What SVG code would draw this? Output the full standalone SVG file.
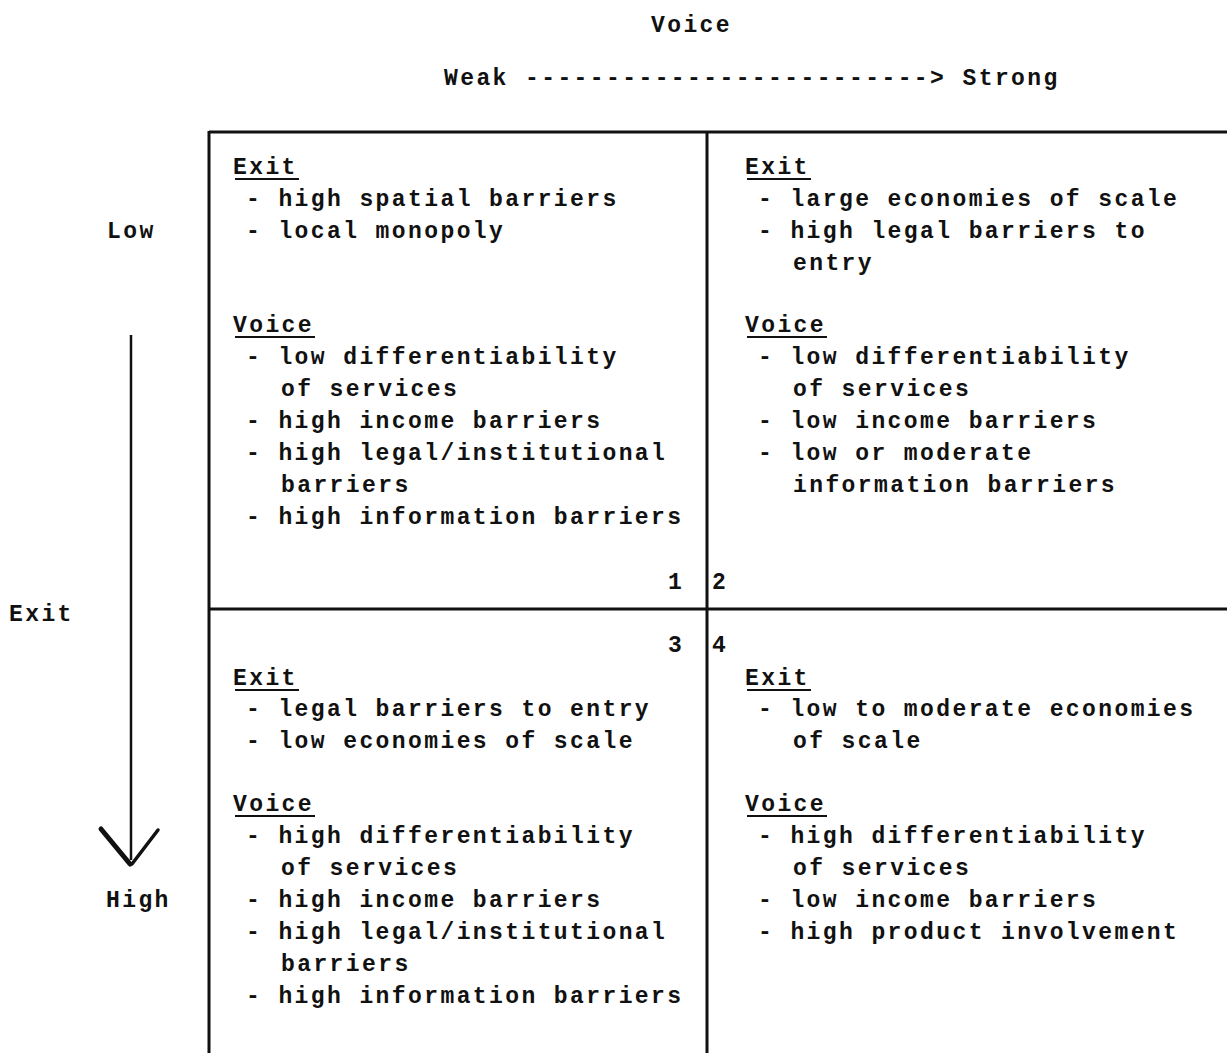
<svg xmlns="http://www.w3.org/2000/svg" width="1227" height="1053" viewBox="0 0 1227 1053">
<style>
text{font-family:"Liberation Mono","DejaVu Sans Mono",monospace;font-size:23px;font-weight:bold;letter-spacing:2.4px;fill:#111}
.g{stroke:#111;stroke-width:3;fill:none}
.u{stroke:#111;stroke-width:2}
</style>
<rect width="1227" height="1053" fill="#fff"/>
<g id="axis-voice">
<text x="651" y="32">Voice</text>
<text x="444" y="85">Weak -------------------------&gt; Strong</text>
</g>
<g id="axis-exit">
<text x="107" y="238">Low</text>
<text x="9" y="621">Exit</text>
<text x="106" y="907">High</text>
</g>
<g id="connectors">
<line x1="131" y1="335" x2="131" y2="860" stroke="#111" stroke-width="2.5"/>
<line x1="101" y1="829" x2="130" y2="864" stroke="#111" stroke-width="5" stroke-linecap="round"/>
<line x1="158" y1="830" x2="132" y2="864" stroke="#111" stroke-width="3.5" stroke-linecap="round"/>
</g>
<g id="grid">
<line class="g" x1="209" y1="132" x2="1227" y2="132"/>
<line class="g" x1="209" y1="609" x2="1227" y2="609"/>
<line class="g" x1="209" y1="131" x2="209" y2="1053"/>
<line class="g" x1="707" y1="131" x2="707" y2="1053"/>
</g>
<g id="cell1">
<text x="233" y="174">Exit</text>
<line class="u" x1="235" y1="179" x2="299" y2="179"/>
<text x="246" y="206">- high spatial barriers</text>
<text x="246" y="238">- local monopoly</text>
<text x="233" y="332">Voice</text>
<line class="u" x1="235" y1="337" x2="315" y2="337"/>
<text x="246" y="364">- low differentiability</text>
<text x="281" y="396">of services</text>
<text x="246" y="428">- high income barriers</text>
<text x="246" y="460">- high legal/institutional</text>
<text x="281" y="492">barriers</text>
<text x="246" y="524">- high information barriers</text>
<text x="668" y="589">1</text>
</g>
<g id="cell2">
<text x="745" y="174">Exit</text>
<line class="u" x1="747" y1="179" x2="811" y2="179"/>
<text x="758" y="206">- large economies of scale</text>
<text x="758" y="238">- high legal barriers to</text>
<text x="793" y="270">entry</text>
<text x="745" y="332">Voice</text>
<line class="u" x1="747" y1="337" x2="827" y2="337"/>
<text x="758" y="364">- low differentiability</text>
<text x="793" y="396">of services</text>
<text x="758" y="428">- low income barriers</text>
<text x="758" y="460">- low or moderate</text>
<text x="793" y="492">information barriers</text>
<text x="712" y="589">2</text>
</g>
<g id="cell3">
<text x="668" y="652">3</text>
<text x="233" y="685">Exit</text>
<line class="u" x1="235" y1="690" x2="299" y2="690"/>
<text x="246" y="716">- legal barriers to entry</text>
<text x="246" y="748">- low economies of scale</text>
<text x="233" y="811">Voice</text>
<line class="u" x1="235" y1="816" x2="315" y2="816"/>
<text x="246" y="843">- high differentiability</text>
<text x="281" y="875">of services</text>
<text x="246" y="907">- high income barriers</text>
<text x="246" y="939">- high legal/institutional</text>
<text x="281" y="971">barriers</text>
<text x="246" y="1003">- high information barriers</text>
</g>
<g id="cell4">
<text x="712" y="652">4</text>
<text x="745" y="685">Exit</text>
<line class="u" x1="747" y1="690" x2="811" y2="690"/>
<text x="758" y="716">- low to moderate economies</text>
<text x="793" y="748">of scale</text>
<text x="745" y="811">Voice</text>
<line class="u" x1="747" y1="816" x2="827" y2="816"/>
<text x="758" y="843">- high differentiability</text>
<text x="793" y="875">of services</text>
<text x="758" y="907">- low income barriers</text>
<text x="758" y="939">- high product involvement</text>
</g>
</svg>
